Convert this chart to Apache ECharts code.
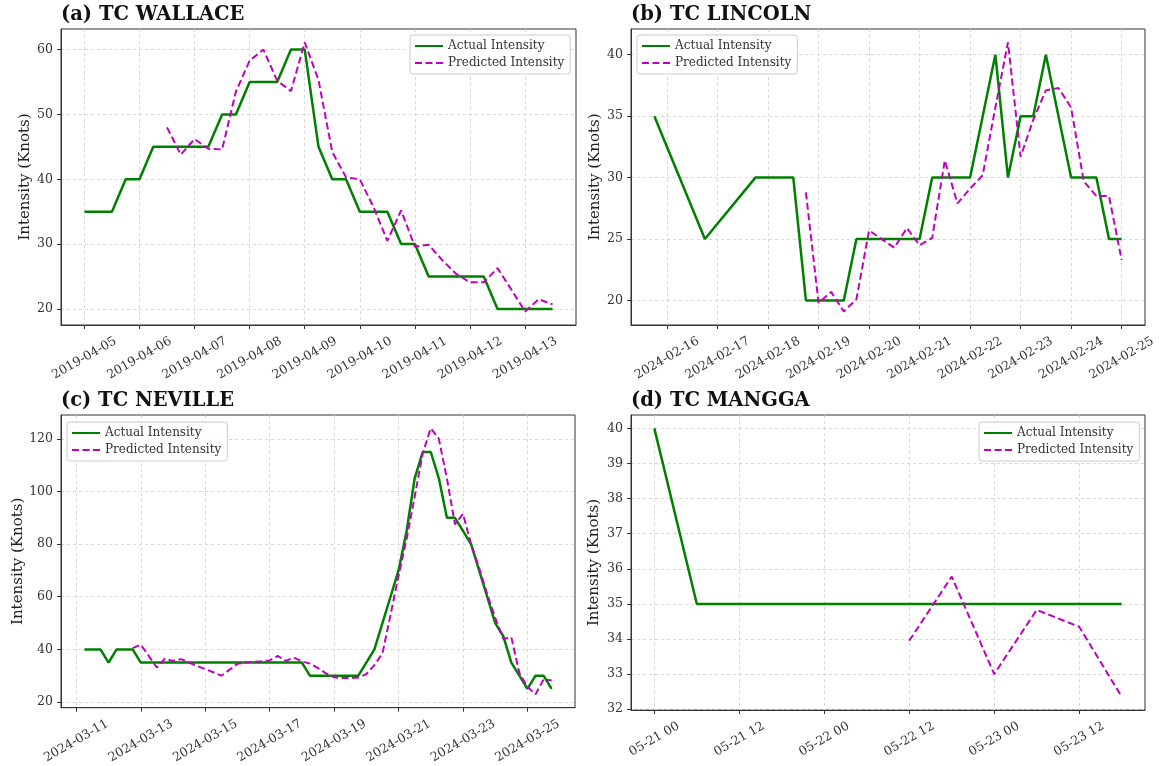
<!DOCTYPE html>
<html><head><meta charset="utf-8">
<script src="https://cdn.jsdelivr.net/npm/echarts@6/dist/echarts.min.js"></script>
<style>html,body{margin:0;padding:0;background:#fff}#c{width:1159px;height:766px}</style>
</head><body><div id="c"></div>
<script>
// ---------------- DATA ----------------
// (a) TC WALLACE
const wallaceActualTime = ['2019-04-05 00','2019-04-05 06','2019-04-05 12','2019-04-05 18','2019-04-06 00','2019-04-06 06','2019-04-06 12','2019-04-06 18','2019-04-07 00','2019-04-07 06','2019-04-07 12','2019-04-07 18','2019-04-08 00','2019-04-08 06','2019-04-08 12','2019-04-08 18','2019-04-09 00','2019-04-09 06','2019-04-09 12','2019-04-09 18','2019-04-10 00','2019-04-10 06','2019-04-10 12','2019-04-10 18','2019-04-11 00','2019-04-11 06','2019-04-11 12','2019-04-11 18','2019-04-12 00','2019-04-12 06','2019-04-12 12','2019-04-12 18','2019-04-13 00','2019-04-13 06','2019-04-13 12'];
const wallaceActual = [35,35,35,40,40,45,45,45,45,45,50,50,55,55,55,60,60,45,40,40,35,35,35,30,30,25,25,25,25,25,20,20,20,20,20];
const wallacePredTime = ['2019-04-06 12','2019-04-06 18','2019-04-07 00','2019-04-07 06','2019-04-07 12','2019-04-07 18','2019-04-08 00','2019-04-08 06','2019-04-08 12','2019-04-08 18','2019-04-09 00','2019-04-09 06','2019-04-09 12','2019-04-09 18','2019-04-10 00','2019-04-10 06','2019-04-10 12','2019-04-10 18','2019-04-11 00','2019-04-11 06','2019-04-11 12','2019-04-11 18','2019-04-12 00','2019-04-12 06','2019-04-12 12','2019-04-12 18','2019-04-13 00','2019-04-13 06','2019-04-13 12'];
const wallacePred = [48.0,43.8,46.2,44.7,44.6,53.5,58.3,60.0,55.2,53.6,61.1,55.3,44.2,40.3,40.0,35.7,30.5,35.2,29.6,29.9,27.5,25.4,24.1,24.1,26.3,23.0,19.6,21.5,20.7];
const wallaceTickTime = ['2019-04-05','2019-04-06','2019-04-07','2019-04-08','2019-04-09','2019-04-10','2019-04-11','2019-04-12','2019-04-13'];
const wallaceTickLabel = ['2019-04-05','2019-04-06','2019-04-07','2019-04-08','2019-04-09','2019-04-10','2019-04-11','2019-04-12','2019-04-13'];
const wallaceYTicks = [20,30,40,50,60];

// (b) TC LINCOLN
const lincolnActualTime = ['2024-02-15 18','2024-02-16 18','2024-02-17 18','2024-02-18 00','2024-02-18 06','2024-02-18 12','2024-02-18 18','2024-02-19 00','2024-02-19 06','2024-02-19 12','2024-02-19 18','2024-02-20 00','2024-02-20 06','2024-02-20 12','2024-02-20 18','2024-02-21 00','2024-02-21 06','2024-02-21 12','2024-02-21 18','2024-02-22 00','2024-02-22 06','2024-02-22 12','2024-02-22 18','2024-02-23 00','2024-02-23 06','2024-02-23 12','2024-02-23 18','2024-02-24 00','2024-02-24 06','2024-02-24 12','2024-02-24 18','2024-02-25 00'];
const lincolnActual = [35,25,30,30,30,30,20,20,20,20,25,25,25,25,25,25,30,30,30,30,35,40,30,35,35,40,35,30,30,30,25,25];
const lincolnPredTime = ['2024-02-18 18','2024-02-19 00','2024-02-19 06','2024-02-19 12','2024-02-19 18','2024-02-20 00','2024-02-20 06','2024-02-20 12','2024-02-20 18','2024-02-21 00','2024-02-21 06','2024-02-21 12','2024-02-21 18','2024-02-22 00','2024-02-22 06','2024-02-22 12','2024-02-22 18','2024-02-23 00','2024-02-23 06','2024-02-23 12','2024-02-23 18','2024-02-24 00','2024-02-24 06','2024-02-24 12','2024-02-24 18','2024-02-25 00'];
const lincolnPred = [28.8,19.8,20.7,19.1,20.1,25.7,25.0,24.3,25.9,24.5,25.1,31.4,27.9,29.1,30.2,35.7,41.0,31.7,34.7,37.1,37.3,35.7,29.7,28.5,28.5,23.3];
const lincolnTickTime = ['2024-02-16','2024-02-17','2024-02-18','2024-02-19','2024-02-20','2024-02-21','2024-02-22','2024-02-23','2024-02-24','2024-02-25'];
const lincolnTickLabel = ['2024-02-16','2024-02-17','2024-02-18','2024-02-19','2024-02-20','2024-02-21','2024-02-22','2024-02-23','2024-02-24','2024-02-25'];
const lincolnYTicks = [20,25,30,35,40];

// (c) TC NEVILLE
const nevilleActualTime = ['2024-03-11 06','2024-03-11 12','2024-03-11 18','2024-03-12 00','2024-03-12 06','2024-03-12 12','2024-03-12 18','2024-03-13 00','2024-03-13 06','2024-03-13 12','2024-03-13 18','2024-03-14 00','2024-03-14 06','2024-03-14 12','2024-03-14 18','2024-03-15 00','2024-03-15 06','2024-03-15 12','2024-03-15 18','2024-03-16 00','2024-03-16 06','2024-03-16 12','2024-03-16 18','2024-03-17 00','2024-03-17 06','2024-03-17 12','2024-03-17 18','2024-03-18 00','2024-03-18 06','2024-03-18 12','2024-03-18 18','2024-03-19 00','2024-03-19 06','2024-03-19 12','2024-03-19 18','2024-03-20 00','2024-03-20 06','2024-03-20 12','2024-03-20 18','2024-03-21 00','2024-03-21 06','2024-03-21 12','2024-03-21 18','2024-03-22 00','2024-03-22 06','2024-03-22 12','2024-03-22 18','2024-03-23 00','2024-03-23 06','2024-03-23 12','2024-03-23 18','2024-03-24 00','2024-03-24 06','2024-03-24 12','2024-03-24 18','2024-03-25 00','2024-03-25 06','2024-03-25 12','2024-03-25 18'];
const nevilleActual = [40,40,40,35,40,40,40,35,35,35,35,35,35,35,35,35,35,35,35,35,35,35,35,35,35,35,35,35,30,30,30,30,30,30,30,35,40,50,60,70,85,105,115,115,105,90,90,85,80,70,60,50,45,35,30,25,30,30,25];
const nevillePredTime = ['2024-03-12 18','2024-03-13 00','2024-03-13 06','2024-03-13 12','2024-03-13 18','2024-03-14 00','2024-03-14 06','2024-03-14 12','2024-03-14 18','2024-03-15 00','2024-03-15 06','2024-03-15 12','2024-03-15 18','2024-03-16 00','2024-03-16 06','2024-03-16 12','2024-03-16 18','2024-03-17 00','2024-03-17 06','2024-03-17 12','2024-03-17 18','2024-03-18 00','2024-03-18 06','2024-03-18 12','2024-03-18 18','2024-03-19 00','2024-03-19 06','2024-03-19 12','2024-03-19 18','2024-03-20 00','2024-03-20 06','2024-03-20 12','2024-03-20 18','2024-03-21 00','2024-03-21 06','2024-03-21 12','2024-03-21 18','2024-03-22 00','2024-03-22 06','2024-03-22 12','2024-03-22 18','2024-03-23 00','2024-03-23 06','2024-03-23 12','2024-03-23 18','2024-03-24 00','2024-03-24 06','2024-03-24 12','2024-03-24 18','2024-03-25 00','2024-03-25 06','2024-03-25 12','2024-03-25 18'];
const nevillePred = [40.5,41.8,37.5,33.1,36.5,35.6,36.3,35.0,33.7,32.5,31.3,30.0,32.2,34.5,35.0,35.3,35.5,35.8,37.5,35.6,36.9,35.4,34.6,32.9,30.9,29.4,29.1,29.1,29.3,30.6,34.0,38.5,53.0,68.0,82.0,98.0,114.5,124.0,120.0,105.0,87.5,91.5,80.0,71.0,61.0,52.0,44.0,44.6,31.0,25.8,22.9,28.6,28.2];
const nevilleTickTime = ['2024-03-11','2024-03-13','2024-03-15','2024-03-17','2024-03-19','2024-03-21','2024-03-23','2024-03-25'];
const nevilleTickLabel = ['2024-03-11','2024-03-13','2024-03-15','2024-03-17','2024-03-19','2024-03-21','2024-03-23','2024-03-25'];
const nevilleYTicks = [20,40,60,80,100,120];

// (d) TC MANGGA
const manggaActualTime = ['2020-05-21 00','2020-05-21 06','2020-05-21 12','2020-05-21 18','2020-05-22 00','2020-05-22 06','2020-05-22 12','2020-05-22 18','2020-05-23 00','2020-05-23 06','2020-05-23 12','2020-05-23 18'];
const manggaActual = [40,35,35,35,35,35,35,35,35,35,35,35];
const manggaPredTime = ['2020-05-22 12','2020-05-22 18','2020-05-23 00','2020-05-23 06','2020-05-23 12','2020-05-23 18'];
const manggaPred = [33.95,35.78,33.0,34.83,34.35,32.36];
const manggaTickTime = ['2020-05-21 00','2020-05-21 12','2020-05-22 00','2020-05-22 12','2020-05-23 00','2020-05-23 12'];
const manggaTickLabel = ['05-21 00','05-21 12','05-22 00','05-22 12','05-23 00','05-23 12'];
const manggaYTicks = [32,33,34,35,36,37,38,39,40];

const titles = ['(a) TC WALLACE','(b) TC LINCOLN','(c) TC NEVILLE','(d) TC MANGGA'];
const seriesNames = ['Actual Intensity','Predicted Intensity'];
const yAxisName = 'Intensity (Knots)';

// ---------------- BUILD ----------------
function t(s){ const p=s.split(' '); const d=p[0].split('-').map(Number); return Date.UTC(d[0],d[1]-1,d[2],p[1]?Number(p[1]):0); }
function pairs(times, vals){ return times.map((s,i)=>[t(s), vals[i]]); }
function pad(vals){ const mn=Math.min(...vals), mx=Math.max(...vals), r=mx-mn; return [mn-0.05*r, mx+0.05*r]; }

const FONT = 'DejaVu Serif';
const TICK_FS = 12.5;
const measureCtx = document.createElement('canvas').getContext('2d');
measureCtx.font = TICK_FS + 'px "DejaVu Serif"';

const panels = [
  {aT:wallaceActualTime,a:wallaceActual,pT:wallacePredTime,p:wallacePred,tT:wallaceTickTime,tL:wallaceTickLabel,yT:wallaceYTicks,
   grid:{left:61,top:29,width:515,height:296}, legend:{left:410,top:35}, gap:28},
  {aT:lincolnActualTime,a:lincolnActual,pT:lincolnPredTime,p:lincolnPred,tT:lincolnTickTime,tL:lincolnTickLabel,yT:lincolnYTicks,
   grid:{left:631,top:29,width:514,height:296}, legend:{left:637,top:35}, gap:28},
  {aT:nevilleActualTime,a:nevilleActual,pT:nevillePredTime,p:nevillePred,tT:nevilleTickTime,tL:nevilleTickLabel,yT:nevilleYTicks,
   grid:{left:61,top:415,width:514,height:296}, legend:{left:67,top:422}, gap:35},
  {aT:manggaActualTime,a:manggaActual,pT:manggaPredTime,p:manggaPred,tT:manggaTickTime,tL:manggaTickLabel,yT:manggaYTicks,
   grid:{left:631,top:415,width:514,height:295}, legend:{left:979,top:422}, gap:29}
];

const option = {animation:false, backgroundColor:'#fff', title:[], grid:[], xAxis:[], yAxis:[], series:[], legend:[]};
panels.forEach((P,i)=>{
  const A = pairs(P.aT,P.a), Pr = pairs(P.pT,P.p);
  const xr = pad(A.map(d=>d[0]).concat(Pr.map(d=>d[0])));
  const yr = pad(A.map(d=>d[1]).concat(Pr.map(d=>d[1])));
  const tickMs = P.tT.map(t);
  // rotated (30deg) label centred under its tick: half of the rotated box height + tick/pad
  const L = measureCtx.measureText(P.tL[0]).width;
  const halfH = (L*0.5 + TICK_FS*0.95*0.866)/2;
  const xMargin = 10 + halfH;
  option.grid.push(Object.assign({show:true, borderColor:'#333', borderWidth:1, containLabel:false}, P.grid));
  option.title.push({text:titles[i], left:P.grid.left, top:P.grid.top-24, padding:0,
    textStyle:{fontFamily:FONT, fontWeight:'bold', fontSize:19.5, color:'#111'}});
  option.xAxis.push({type:'value', gridIndex:i, min:xr[0], max:xr[1],
    axisLine:{show:true, onZero:false, lineStyle:{color:'#333', width:1}},
    axisTick:{show:true, customValues:tickMs, length:4, lineStyle:{color:'#333'}},
    axisLabel:{customValues:tickMs, rotate:30, align:'center', verticalAlign:'middle', margin:xMargin,
      fontFamily:FONT, fontSize:TICK_FS, color:'#333',
      formatter:v=>{const k=tickMs.indexOf(v); return k>=0?P.tL[k]:'';}},
    splitLine:{show:true, lineStyle:{color:'#cfcfcf', type:[3,3], width:0.8}}});
  option.yAxis.push({type:'value', gridIndex:i, min:yr[0], max:yr[1],
    name:yAxisName, nameLocation:'middle', nameGap:P.gap,
    nameTextStyle:{fontFamily:FONT, fontSize:15, color:'#222'},
    axisLine:{show:true, onZero:false, lineStyle:{color:'#333', width:1}},
    axisTick:{show:true, customValues:P.yT, length:4, lineStyle:{color:'#333'}},
    axisLabel:{customValues:P.yT, margin:8, fontFamily:FONT, fontSize:TICK_FS, color:'#333'},
    splitLine:{show:true, lineStyle:{color:'#cfcfcf', type:[3,3], width:0.8}}});
  option.series.push({name:seriesNames[0], type:'line', xAxisIndex:i, yAxisIndex:i, data:A, symbol:'none',
    lineStyle:{color:'#008000', width:2.5}, itemStyle:{color:'#008000'}, z:2});
  option.series.push({name:seriesNames[1], type:'line', xAxisIndex:i, yAxisIndex:i, data:Pr, symbol:'none',
    lineStyle:{color:'#bf00bf', width:2, type:[7,3.5]}, itemStyle:{color:'#bf00bf'}, z:3});
  option.legend.push({data:seriesNames, orient:'vertical', left:P.legend.left, top:P.legend.top,
    itemWidth:28, itemHeight:12, itemGap:5, padding:[5,6,5,4], selectedMode:false,
    backgroundColor:'rgba(255,255,255,0.85)', borderColor:'#cccccc', borderWidth:1, borderRadius:3,
    itemStyle:{opacity:0},
    textStyle:{fontFamily:FONT, fontSize:12, color:'#333'}});
});

const chart = echarts.init(document.getElementById('c'), null, {renderer:'canvas'});
chart.setOption(option);
</script>
</body></html>
